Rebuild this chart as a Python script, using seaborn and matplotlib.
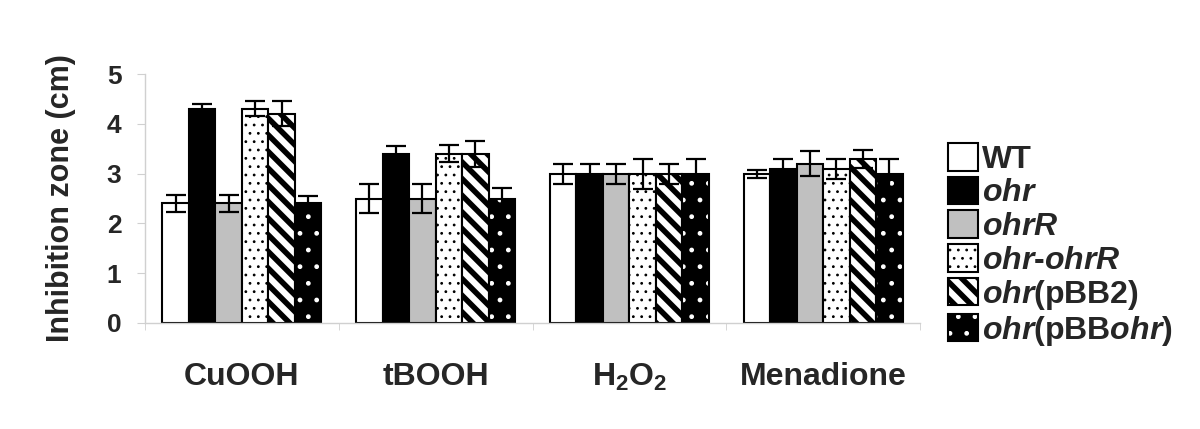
import matplotlib
matplotlib.use("Agg")
import matplotlib.pyplot as plt
import matplotlib.colors as mcolors
import seaborn as sns
import pandas as pd
import numpy as np

# agents on the x axis
agents = ["CuOOH", "tBOOH", "H$_2$O$_2$", "Menadione"]
# strains (legend)
strains = ["WT", "ohr", "ohrR", "ohr-ohrR", "ohr(pBB2)", "ohr(pBBohr)"]
strain_labels = ["WT", r"$\mathit{ohr}$", r"$\mathit{ohrR}$",
                 r"$\mathit{ohr}$-$\mathit{ohrR}$", r"$\mathit{ohr}$(pBB2)",
                 r"$\mathit{ohr}$(pBB$\mathit{ohr}$)"]

# inhibition zone (cm), per strain, in agent order
wt = [2.4, 2.5, 3.0, 3.0]
ohr = [4.3, 3.4, 3.0, 3.1]
ohrR = [2.4, 2.5, 3.0, 3.2]
ohr_ohrR = [4.3, 3.4, 3.0, 3.1]
ohr_pbb2 = [4.2, 3.4, 3.0, 3.3]
ohr_pbbohr = [2.4, 2.5, 3.0, 3.0]

# standard deviations
wt_sd = [0.17, 0.3, 0.2, 0.08]
ohr_sd = [0.1, 0.15, 0.2, 0.2]
ohrR_sd = [0.17, 0.3, 0.2, 0.25]
ohr_ohrR_sd = [0.15, 0.17, 0.3, 0.2]
ohr_pbb2_sd = [0.25, 0.26, 0.2, 0.18]
ohr_pbbohr_sd = [0.15, 0.22, 0.3, 0.3]

values = [wt, ohr, ohrR, ohr_ohrR, ohr_pbb2, ohr_pbbohr]
errors = [wt_sd, ohr_sd, ohrR_sd, ohr_ohrR_sd, ohr_pbb2_sd, ohr_pbbohr_sd]

face_colors = ["white", "black", "#c0c0c0", "white", "white", "black"]
hatches = [None, None, None, "..", "\\\\", "."]
hatch_colors = ["black", "black", "black", "black", "black", "white"]
hatch_widths = [1.0, 1.0, 1.0, 0.8, 4.0, 1.0]

df = pd.DataFrame({
    "agent": np.repeat([agents], len(strains), axis=0).ravel(),
    "strain": np.repeat(strains, len(agents)),
    "zone": np.ravel(values),
})

sns.set_style("white")
plt.rcParams["font.family"] = ["Liberation Sans", "DejaVu Sans"]
plt.rcParams["font.weight"] = "bold"
plt.rcParams["mathtext.fontset"] = "custom"
plt.rcParams["mathtext.rm"] = "Liberation Sans:bold"
plt.rcParams["mathtext.it"] = "Liberation Sans:bold:italic"
plt.rcParams["mathtext.bf"] = "Liberation Sans:bold"
plt.rcParams["hatch.linewidth"] = 1.0


def style_hatch(p, i):
    if not hatches[i]:
        return
    p.set_hatch(hatches[i])
    if hasattr(p, "set_hatchcolor"):
        p.set_hatchcolor(hatch_colors[i])
    else:
        p._hatch_color = mcolors.to_rgba(hatch_colors[i])
    if hasattr(p, "set_hatch_linewidth"):
        p.set_hatch_linewidth(hatch_widths[i])


fig = plt.figure(figsize=(12, 4.29), dpi=100)
ax = fig.add_axes([145 / 1200, 1 - 323 / 429, 775 / 1200, 249 / 429])

sns.barplot(data=df, x="agent", y="zone", hue="strain", hue_order=strains,
            order=agents, palette=dict(zip(strains, face_colors)),
            width=0.82, edgecolor="black", linewidth=1.5, errorbar=None,
            saturation=1, legend=False, ax=ax)

bar_conts = list(ax.containers)
handles = []
for i, cont in enumerate(bar_conts):
    for bar in cont:
        bar.set_facecolor(face_colors[i])
        bar.set_edgecolor("black")
        style_hatch(bar, i)
    xs = [b.get_x() + b.get_width() / 2 for b in cont]
    hs = [b.get_height() for b in cont]
    ax.errorbar(xs, hs, yerr=errors[i], fmt="none", ecolor="black",
                elinewidth=1.6, capsize=7, capthick=1.6, zorder=5)
    handles.append(cont[0])

ax.set_ylim(0, 5)
ax.set_xlim(-0.5, 3.5)
ax.set_yticks(range(0, 6))
ax.tick_params(axis="y", labelsize=19, length=6, color="#d0d0d0", pad=11,
               left=True, direction="out")
ax.set_xticks([-0.5, 0.5, 1.5, 2.5, 3.5], minor=True)
ax.tick_params(axis="x", which="major", length=0, labelsize=23, pad=28)
ax.tick_params(axis="x", which="minor", length=5, color="#d0d0d0",
               bottom=True, direction="out")
ax.set_xlabel("")
ax.set_ylabel("Inhibition zone (cm)", fontsize=22, fontweight="bold",
              labelpad=22)
for side in ["top", "right"]:
    ax.spines[side].set_visible(False)
for side in ["left", "bottom"]:
    ax.spines[side].set_color("#d0d0d0")
    ax.spines[side].set_linewidth(1)

leg = fig.legend(handles, strain_labels, loc="upper left",
                 bbox_to_anchor=(948 / 1200, 1 - 143 / 429), frameon=False,
                 fontsize=23, handlelength=0.95, handleheight=0.95,
                 handletextpad=0.1, labelspacing=0.06, borderpad=0,
                 borderaxespad=0)
for i, p in enumerate(leg.get_patches()):
    p.set_edgecolor("black")
    p.set_linewidth(1.5)
    style_hatch(p, i)

fig.savefig("out.png", dpi=100)
